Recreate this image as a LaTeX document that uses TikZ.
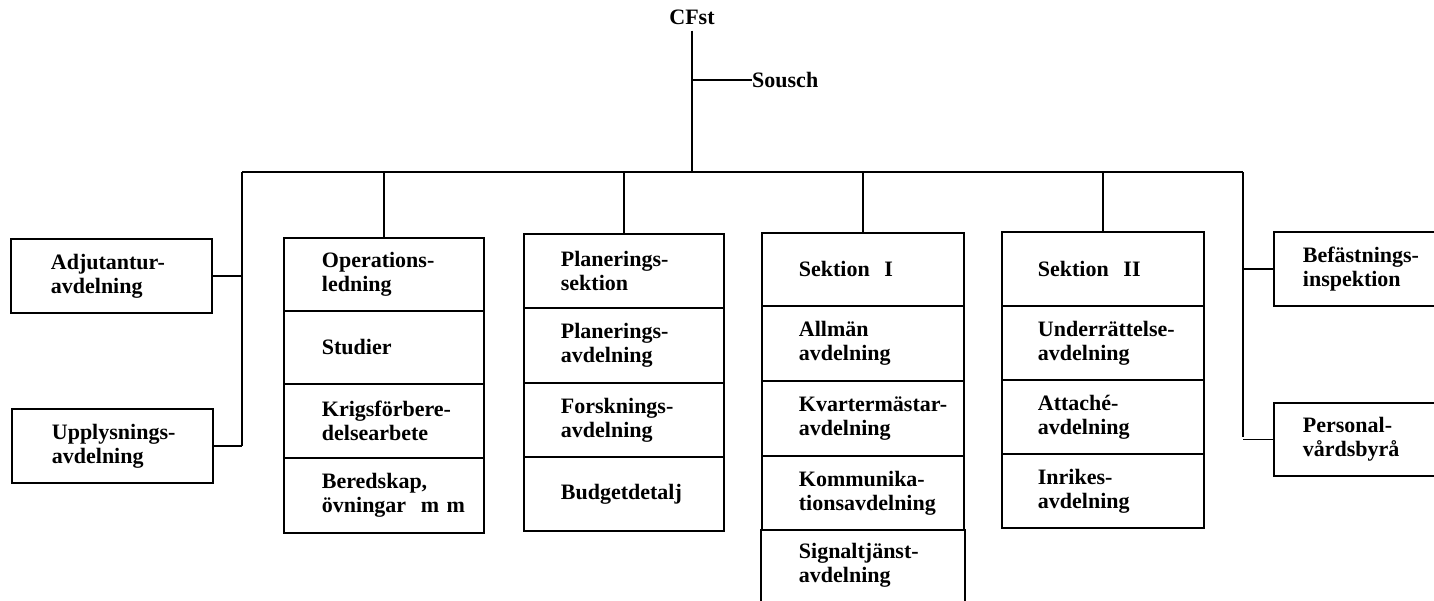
\documentclass[tikz,border=0pt]{standalone}
\usepackage{fontspec}
\setmainfont{Liberation Serif}
\newcommand{\ml}[1]{\mbox{#1}}
\begin{document}
\begin{tikzpicture}[x=1pt,y=-1pt,
  every node/.style={font=\fontsize{22}{24}\selectfont\bfseries},
  ln/.style={line width=1.8pt},
  cell/.style={draw, line width=1.8pt, rectangle, inner ysep=0pt, inner xsep=38pt, align=left, anchor=north west},
  colA/.style={cell, text width=124pt, minimum width=200pt},
  colB/.style={cell, inner xsep=37pt, text width=128pt, minimum width=202pt},
  side/.style={cell, inner xsep=40pt, text width=121pt, minimum width=201pt},
  rside/.style={cell, inner xsep=29pt, text width=112pt, minimum width=170pt}
]
\useasboundingbox (0,0) rectangle (1434,600);

% top
\node[anchor=center, inner sep=0pt] (cfst) at (692,17) {CFst};
\node[anchor=west, inner sep=0pt] (sousch) at (752,80) {Sousch};
\coordinate (bustop) at (692,172);
\coordinate (souschj) at (692,80);
\coordinate (busL) at (242,172);
\coordinate (busR) at (1243,172);
\coordinate (leftend) at (242,446);
\coordinate (rightend) at (1243,437);

% left side boxes
\node[side, minimum height=74pt] (adj) at (10,238) {\ml{Adjutantur-}\\\ml{avdelning}};
\node[side, minimum height=74pt] (upp) at (11,408) {\ml{Upplysnings-}\\\ml{avdelning}};

% Operations column
\node[colA, minimum height=73pt] (op1) at (283,237) {\ml{Operations-}\\\ml{ledning}};
\node[colA, minimum height=73pt] (op2) at (283,310) {\ml{Studier}};
\node[colA, minimum height=74pt] (op3) at (283,383) {\ml{Krigsförbere-}\\\ml{delsearbete}};
\node[colA, minimum height=75pt] (op4) at (283,457) {\ml{Beredskap,}\\\ml{övningar\ \ m m}};

% Planering column
\node[colA, inner xsep=37pt, text width=126pt, minimum height=74pt] (pl1) at (523,233) {\ml{Planerings-}\\\ml{sektion}};
\node[colA, inner xsep=37pt, text width=126pt, minimum height=75pt] (pl2) at (523,307) {\ml{Planerings-}\\\ml{avdelning}};
\node[colA, inner xsep=37pt, text width=126pt, minimum height=74pt] (pl3) at (523,382) {\ml{Forsknings-}\\\ml{avdelning}};
\node[colA, inner xsep=37pt, text width=126pt, minimum height=74pt] (pl4) at (523,456) {\ml{Budgetdetalj}};

% Sektion I column
\node[colB, minimum height=73pt] (sa1) at (761,232) {\ml{Sektion\ \ I}};
\node[colB, minimum height=75pt] (sa2) at (761,305) {\ml{Allmän}\\\ml{avdelning}};
\node[colB, minimum height=75pt] (sa3) at (761,380) {\ml{Kvartermästar-}\\\ml{avdelning}};
\node[colB, minimum height=74pt] (sa4) at (761,455) {\ml{Kommunika-}\\\ml{tionsavdelning}};
\node[colB, draw=none, minimum height=71pt] (sa5) at (761,529) {\ml{Signaltjänst-}\\\ml{avdelning}};
\draw[ln] (sa5.north west) -- (sa5.south west);
\draw[ln] (sa5.north east) -- (sa5.south east);

% Sektion II column
\node[colB, inner xsep=36pt, text width=130pt, minimum width=202pt, minimum height=74pt] (sb1) at (1001,231) {\ml{Sektion\ \ II}};
\node[colB, inner xsep=36pt, text width=130pt, minimum width=202pt, minimum height=74pt] (sb2) at (1001,305) {\ml{Underrättelse-}\\\ml{avdelning}};
\node[colB, inner xsep=36pt, text width=130pt, minimum width=202pt, minimum height=74pt] (sb3) at (1001,379) {\ml{Attaché-}\\\ml{avdelning}};
\node[colB, inner xsep=36pt, text width=130pt, minimum width=202pt, minimum height=74pt] (sb4) at (1001,453) {\ml{Inrikes-}\\\ml{avdelning}};

% right side boxes
\node[rside, minimum height=74pt] (bef) at (1273,231) {\ml{Befästnings-}\\\ml{inspektion}};
\node[rside, minimum height=73pt] (pers) at (1273,402) {\ml{Personal-}\\\ml{vårdsbyrå}};

% connectors
\draw[ln] (cfst.south) ++(0,6) -- (bustop);
\draw[ln] (souschj) -- (sousch.west);
\draw[ln] (busL) -- (busR);
\draw[ln] (busL) -- (leftend);
\draw[ln] (busR) -- (rightend);
\draw[ln] (adj.east) -- (adj.east -| busL);
\draw[ln] (upp.east) -- (upp.east -| busL);
\draw[ln] (bef.west) -- (bef.west -| busR);
\draw[ln] (pers.west) -- (pers.west -| busR);
\draw[ln] (op1.north |- busL) -- (op1.north);
\draw[ln] (pl1.north |- busL) -- (pl1.north);
\draw[ln] (sa1.north |- busL) -- (sa1.north);
\draw[ln] (sb1.north |- busL) -- (sb1.north);
\end{tikzpicture}
\end{document}
